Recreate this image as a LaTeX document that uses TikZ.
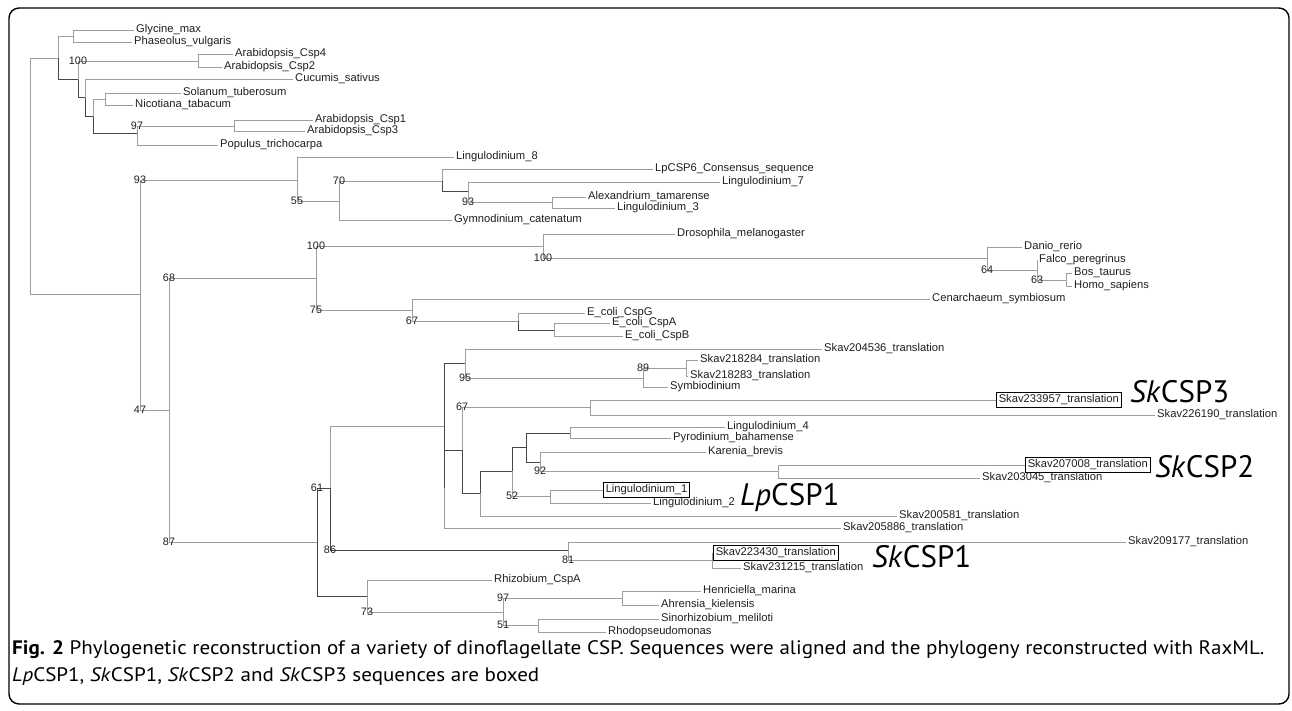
\documentclass[tikz,border=0pt]{standalone}
\usepackage{fontspec}
\setmainfont{Liberation Sans}
\newfontfamily\capfont[FakeStretch=1.08]{PT Sans}
\newfontfamily\cspfont{PT Sans}
\usetikzlibrary{positioning}

\definecolor{branchgray}{gray}{0.62}
\definecolor{branchdark}{gray}{0.28}
\definecolor{labelink}{gray}{0.12}

\tikzset{
  br/.style={draw=branchgray, line width=0.9pt},
  brdark/.style={draw=branchdark, line width=1pt},
  taxon/.style={anchor=west, inner xsep=2pt, inner ysep=0.5pt, text=labelink,
    font=\fontsize{11.2}{12}\selectfont},
  boxed/.style={taxon, draw=black, line width=1.1pt, inner sep=2.2pt},
  boot/.style={inner sep=0pt, text=labelink, font=\fontsize{10.8}{12}\selectfont},
  csp/.style={anchor=base west, inner sep=0pt, font=\cspfont\fontsize{31}{31}\selectfont},
  caption/.style={anchor=base west, inner sep=0pt, font=\capfont\fontsize{19.5}{21}\selectfont},
}

\begin{document}
\begin{tikzpicture}[x=1pt,y=-1pt]
  \useasboundingbox (0,0) rectangle (1292,711);
  \draw[line width=1.4pt, rounded corners=10pt] (9,8) rectangle (1289,704);

  % internal nodes: plants
  \coordinate (root) at (30,176);
  \coordinate (plants) at (58,58);
  \coordinate (gp) at (73,36);
  \coordinate (n78) at (78,80);
  \coordinate (ara42) at (198,61);
  \coordinate (n85) at (85,98);
  \coordinate (n93) at (93,117);
  \coordinate (sn) at (105,99);
  \coordinate (n137) at (137,134);
  \coordinate (ara13) at (234,126);

  % internal nodes: dinoflagellates
  \coordinate (n140) at (140,294);
  \coordinate (dino) at (297,180);
  \coordinate (n339) at (339,201);
  \coordinate (n442) at (442,181);
  \coordinate (n468) at (468,192);
  \coordinate (n552) at (552,202);

  % internal nodes: animals and bacteria
  \coordinate (n169) at (169,410);
  \coordinate (n316) at (316,278);
  \coordinate (n543) at (543,246);
  \coordinate (n987) at (987,258);
  \coordinate (n1037) at (1037,270);
  \coordinate (n1066) at (1066,280);
  \coordinate (n412) at (412,310);
  \coordinate (n518) at (518,321);
  \coordinate (n554) at (554,330);

  % internal nodes: Symbiodinium kawagutii group
  \coordinate (n317) at (317,542);
  \coordinate (n330) at (330,488);
  \coordinate (n444) at (444,426);
  \coordinate (n465) at (465,363);
  \coordinate (n643) at (643,378);
  \coordinate (n686) at (686,368);
  \coordinate (q444) at (444,488);
  \coordinate (n462) at (462,450);
  \coordinate (n590) at (590,407);
  \coordinate (n480) at (480,493);
  \coordinate (n512) at (512,471);
  \coordinate (n526) at (526,447);
  \coordinate (n570) at (570,433);
  \coordinate (n540) at (540,462);
  \coordinate (n778) at (778,471);
  \coordinate (n550) at (550,496);
  \coordinate (n568) at (568,550);
  \coordinate (n712) at (712,560);
  \coordinate (n367) at (367,596);
  \coordinate (n503) at (503,612);
  \coordinate (n622) at (622,598);
  \coordinate (n538) at (538,625);

  % taxa
  \node[taxon] (glycine) at (134,30) {Glycine\_max};
  \node[taxon] (phaseolus) at (132,42) {Phaseolus\_vulgaris};
  \node[taxon] (csp4) at (233,54) {Arabidopsis\_Csp4};
  \node[taxon] (csp2) at (222,67) {Arabidopsis\_Csp2};
  \node[taxon] (cucumis) at (293,79) {Cucumis\_sativus};
  \node[taxon] (solanum) at (181,93) {Solanum\_tuberosum};
  \node[taxon] (nicotiana) at (133,105) {Nicotiana\_tabacum};
  \node[taxon] (csp1) at (313,120) {Arabidopsis\_Csp1};
  \node[taxon] (csp3) at (305,131) {Arabidopsis\_Csp3};
  \node[taxon] (populus) at (218,145) {Populus\_trichocarpa};

  \node[taxon] (ling8) at (454,157) {Lingulodinium\_8};
  \node[taxon] (lpcsp6) at (653,169) {LpCSP6\_Consensus\_sequence};
  \node[taxon] (ling7) at (720,182) {Lingulodinium\_7};
  \node[taxon] (alex) at (586,197) {Alexandrium\_tamarense};
  \node[taxon] (ling3) at (615,208) {Lingulodinium\_3};
  \node[taxon] (gymno) at (452,220) {Gymnodinium\_catenatum};

  \node[taxon] (droso) at (675,234) {Drosophila\_melanogaster};
  \node[taxon] (danio) at (1022,247) {Danio\_rerio};
  \node[taxon] (falco) at (1037,260) {Falco\_peregrinus};
  \node[taxon] (bos) at (1072,273) {Bos\_taurus};
  \node[taxon] (homo) at (1072,286) {Homo\_sapiens};
  \node[taxon] (cenar) at (930,299) {Cenarchaeum\_symbiosum};
  \node[taxon] (cspg) at (585,313) {E\_coli\_CspG};
  \node[taxon] (cspa) at (610,323) {E\_coli\_CspA};
  \node[taxon] (cspb) at (623,336) {E\_coli\_CspB};

  \node[taxon] (sk204536) at (822,349) {Skav204536\_translation};
  \node[taxon] (sk218284) at (698,360) {Skav218284\_translation};
  \node[taxon] (sk218283) at (688,376) {Skav218283\_translation};
  \node[taxon] (symbio) at (668,387) {Symbiodinium};
  \node[boxed] (sk233957) at (996,400) {Skav233957\_translation};
  \node[taxon] (sk226190) at (1155,415) {Skav226190\_translation};
  \node[taxon] (ling4) at (725,427) {Lingulodinium\_4};
  \node[taxon] (pyro) at (671,438) {Pyrodinium\_bahamense};
  \node[taxon] (karenia) at (706,452) {Karenia\_brevis};
  \node[boxed] (sk207008) at (1025,465) {Skav207008\_translation};
  \node[taxon] (sk203045) at (980,478) {Skav203045\_translation};
  \node[boxed] (ling1) at (603,490) {Lingulodinium\_1};
  \node[taxon] (ling2) at (651,503) {Lingulodinium\_2};
  \node[taxon] (sk200581) at (897,516) {Skav200581\_translation};
  \node[taxon] (sk205886) at (841,528) {Skav205886\_translation};
  \node[taxon] (sk209177) at (1126,542) {Skav209177\_translation};
  \node[boxed] (sk223430) at (713,553) {Skav223430\_translation};
  \node[taxon] (sk231215) at (741,568) {Skav231215\_translation};
  \node[taxon] (rhizo) at (492,580) {Rhizobium\_CspA};
  \node[taxon] (henri) at (701,591) {Henriciella\_marina};
  \node[taxon] (ahren) at (659,605) {Ahrensia\_kielensis};
  \node[taxon] (sino) at (659,619) {Sinorhizobium\_meliloti};
  \node[taxon] (rhodo) at (606,632) {Rhodopseudomonas};

  % branches: plants
  \draw[br] (root) |- (plants);
  \draw[br] (root) |- (n140);
  \draw[br] (plants) |- (gp);
  \draw[brdark] (plants) |- (n78);
  \draw[br] (gp) |- (glycine.west);
  \draw[br] (gp) |- (phaseolus.west);
  \draw[br] (n78) |- (ara42) node[pos=.5,boot] {100};
  \draw[brdark] (n78) |- (n85);
  \draw[br] (ara42) |- (csp4.west);
  \draw[br] (ara42) |- (csp2.west);
  \draw[br] (n85) |- (cucumis.west);
  \draw[brdark] (n85) |- (n93);
  \draw[br] (n93) |- (sn);
  \draw[brdark] (n93) |- (n137);
  \draw[br] (sn) |- (solanum.west);
  \draw[br] (sn) |- (nicotiana.west);
  \draw[br] (n137) |- (ara13) node[pos=.5,boot] {97};
  \draw[br] (n137) |- (populus.west);
  \draw[br] (ara13) |- (csp1.west);
  \draw[br] (ara13) |- (csp3.west);

  % branches: dinoflagellates
  \draw[br] (n140) |- (dino) node[pos=.5,boot] {93};
  \draw[br] (n140) |- (n169) node[pos=.5,boot] {47};
  \draw[br] (dino) |- (ling8.west);
  \draw[br] (dino) |- (n339) node[pos=.5,boot] {55};
  \draw[br] (n339) |- (n442) node[pos=.5,boot] {70};
  \draw[br] (n339) |- (gymno.west);
  \draw[br] (n442) |- (lpcsp6.west);
  \draw[brdark] (n442) |- (n468);
  \draw[br] (n468) |- (ling7.west);
  \draw[br] (n468) |- (n552) node[pos=.5,boot] {93};
  \draw[br] (n552) |- (alex.west);
  \draw[br] (n552) |- (ling3.west);

  % branches: animals and bacteria
  \draw[br] (n169) |- (n316) node[pos=.5,boot] {68};
  \draw[br] (n169) |- (n317) node[pos=.5,boot] {87};
  \draw[br] (n316) |- (n543) node[pos=.5,boot] {100};
  \draw[br] (n316) |- (n412) node[pos=.5,boot] {75};
  \draw[br] (n543) |- (droso.west);
  \draw[br] (n543) |- (n987) node[pos=.5,boot] {100};
  \draw[br] (n987) |- (danio.west);
  \draw[br] (n987) |- (n1037) node[pos=.5,boot] {64};
  \draw[br] (n1037) |- (falco.west);
  \draw[br] (n1037) |- (n1066) node[pos=.5,boot] {63};
  \draw[br] (n1066) |- (bos.west);
  \draw[br] (n1066) |- (homo.west);
  \draw[br] (n412) |- (cenar.west);
  \draw[br] (n412) |- (n518) node[pos=.5,boot] {67};
  \draw[br] (n518) |- (cspg.west);
  \draw[brdark] (n518) |- (n554);
  \draw[br] (n554) |- (cspa.west);
  \draw[br] (n554) |- (cspb.west);

  % branches: Symbiodinium kawagutii group
  \draw[brdark] (n317) |- (n330) node[pos=.5,boot] {61};
  \draw[brdark] (n317) |- (n367);
  \draw[br] (n330) |- (n444);
  \draw[brdark] (n330) |- (n568) node[pos=.5,boot] {86};
  \draw[brdark] (n444) |- (n465);
  \draw[brdark] (n444) |- (q444);
  \draw[br] (n465) |- (sk204536.west);
  \draw[br] (n465) |- (n643) node[pos=.5,boot] {95};
  \draw[br] (n643) |- (n686) node[pos=.5,boot] {89};
  \draw[br] (n643) |- (symbio.west);
  \draw[br] (n686) |- (sk218284.west);
  \draw[br] (n686) |- (sk218283.west);
  \draw[brdark] (q444) |- (n462);
  \draw[br] (q444) |- (sk205886.west);
  \draw[br] (n462) |- (n590) node[pos=.5,boot] {67};
  \draw[brdark] (n462) |- (n480);
  \draw[br] (n590) |- (sk233957.west);
  \draw[br] (n590) |- (sk226190.west);
  \draw[brdark] (n480) |- (n512);
  \draw[br] (n480) |- (sk200581.west);
  \draw[brdark] (n512) |- (n526);
  \draw[br] (n512) |- (n550) node[pos=.5,boot] {52};
  \draw[brdark] (n526) |- (n570);
  \draw[brdark] (n526) |- (n540);
  \draw[br] (n570) |- (ling4.west);
  \draw[br] (n570) |- (pyro.west);
  \draw[br] (n540) |- (karenia.west);
  \draw[br] (n540) |- (n778) node[pos=.5,boot] {92};
  \draw[br] (n778) |- (sk207008.west);
  \draw[br] (n778) |- (sk203045.west);
  \draw[br] (n550) |- (ling1.west);
  \draw[br] (n550) |- (ling2.west);
  \draw[br] (n568) |- (sk209177.west);
  \draw[br] (n568) |- (n712) node[pos=.5,boot] {81};
  \draw[br] (n712) |- (sk223430.west);
  \draw[br] (n712) |- (sk231215.west);
  \draw[br] (n367) |- (rhizo.west);
  \draw[br] (n367) |- (n503) node[pos=.5,boot] {73};
  \draw[br] (n503) |- (n622) node[pos=.5,boot] {97};
  \draw[br] (n503) |- (n538) node[pos=.5,boot] {51};
  \draw[br] (n622) |- (henri.west);
  \draw[br] (n622) |- (ahren.west);
  \draw[br] (n538) |- (sino.west);
  \draw[br] (n538) |- (rhodo.west);

  % boxed sequences
  \node[csp] (skcsp3) at (1130,402) {\textit{Sk}CSP3};
  \node[csp] (skcsp2) at (1155,477) {\textit{Sk}CSP2};
  \node[csp] (lpcsp1) at (740,505) {\textit{Lp}CSP1};
  \node[csp] (skcsp1) at (872,567) {\textit{Sk}CSP1};

  % caption
  \node[caption] (cap1) at (12,654) {\textbf{Fig. 2} Phylogenetic reconstruction of a variety of dinoflagellate CSP. Sequences were aligned and the phylogeny reconstructed with RaxML.};
  \node[caption] (cap2) at (12,681) {\textit{Lp}CSP1, \textit{Sk}CSP1, \textit{Sk}CSP2 and \textit{Sk}CSP3 sequences are boxed};
\end{tikzpicture}
\end{document}
